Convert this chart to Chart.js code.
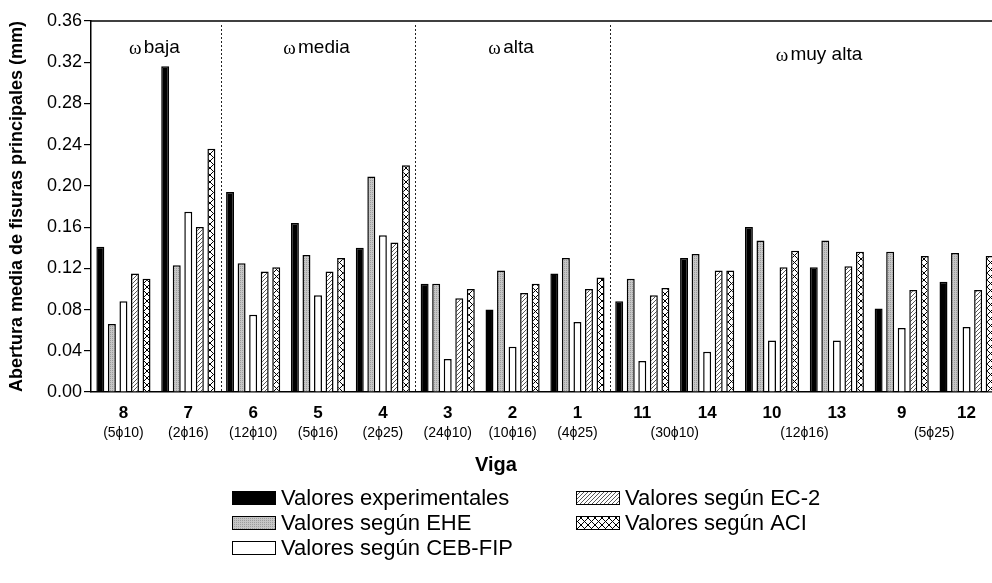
<!DOCTYPE html>
<html>
<head>
<meta charset="utf-8">
<script src="https://cdn.jsdelivr.net/npm/chart.js@4.4.0/dist/chart.umd.min.js"></script>
<style>
  html, body { margin: 0; padding: 0; background: #fff; overflow: hidden; }
  #wrap { position: relative; width: 1010px; height: 583px; }
</style>
</head>
<body>
<div id="wrap"><canvas id="fisurasChart"></canvas></div>
<script>
// vigas, in the order they are plotted
const vigas = ['8', '7', '6', '5', '4', '3', '2', '1', '11', '14', '10', '13', '9', '12'];
// armado of each viga (shared ones are printed once)
const armado = ['5ϕ10', '2ϕ16', '12ϕ10', '5ϕ16', '2ϕ25', '24ϕ10', '10ϕ16', '4ϕ25',
  '30ϕ10', '30ϕ10', '12ϕ16', '12ϕ16', '5ϕ25', '5ϕ25'];
// cuantia group of each viga
const cuantia = ['baja', 'baja', 'media', 'media', 'media', 'alta', 'alta', 'alta',
  'muy alta', 'muy alta', 'muy alta', 'muy alta', 'muy alta', 'muy alta'];

// abertura media de fisuras (mm)
const experimentales = [0.141, 0.316, 0.194, 0.164, 0.140, 0.105, 0.080, 0.115, 0.088, 0.130, 0.160, 0.121, 0.081, 0.107];
const segunEHE = [0.066, 0.123, 0.125, 0.133, 0.209, 0.105, 0.118, 0.130, 0.110, 0.134, 0.147, 0.147, 0.136, 0.135];
const segunCEB = [0.088, 0.175, 0.075, 0.094, 0.152, 0.032, 0.044, 0.068, 0.030, 0.039, 0.050, 0.050, 0.062, 0.063];
const segunEC2 = [0.115, 0.160, 0.117, 0.117, 0.145, 0.091, 0.096, 0.100, 0.094, 0.118, 0.121, 0.122, 0.099, 0.099];
const segunACI = [0.110, 0.236, 0.121, 0.130, 0.220, 0.100, 0.105, 0.111, 0.101, 0.118, 0.137, 0.136, 0.132, 0.132];

// y axis
const yMax = 0.36;
const yStep = 0.04;

const SANS = "'Liberation Sans', Arial, 'DejaVu Sans', sans-serif";
const SERIF = "'Liberation Serif', 'DejaVu Serif', serif";
Chart.defaults.font.family = SANS;
Chart.defaults.color = '#000';

// small canvas tiles for the bar fills
function tile(w, h, draw) {
  const c = document.createElement('canvas');
  c.width = w; c.height = h;
  const g = c.getContext('2d');
  g.fillStyle = '#fff';
  g.fillRect(0, 0, w, h);
  draw(g);
  return g.createPattern(c, 'repeat');
}

const grayFill = tile(2, 2, g => {
  g.fillStyle = '#c6c6c6'; g.fillRect(0, 0, 2, 2);
  g.fillStyle = '#9c9c9c'; g.fillRect(0, 0, 1, 1);
});
const hatchFill = tile(4, 4, g => {
  g.strokeStyle = '#444'; g.lineWidth = 0.9;
  g.beginPath();
  g.moveTo(0, 4); g.lineTo(4, 0);
  g.moveTo(-1, 1); g.lineTo(1, -1);
  g.moveTo(3, 5); g.lineTo(5, 3);
  g.stroke();
});
const crossFill = tile(7, 7, g => {
  g.strokeStyle = '#000'; g.lineWidth = 1;
  g.beginPath();
  g.moveTo(0, 0); g.lineTo(7, 7);
  g.moveTo(7, 0); g.lineTo(0, 7);
  g.stroke();
});

// runs of equal values -> [first, last, value]
function runs(arr) {
  const out = [];
  arr.forEach((v, i) => {
    const r = out[out.length - 1];
    if (r && r[2] === v) r[1] = i; else out.push([i, i, v]);
  });
  return out;
}

// frame top line, dotted separators and the ω labels
const zonasPlugin = {
  id: 'zonas',
  afterDatasetsDraw(chart) {
    const {ctx, chartArea: a, scales: {x}} = chart;
    ctx.save();
    ctx.strokeStyle = '#000';
    ctx.lineWidth = 1.5;
    ctx.beginPath();
    ctx.moveTo(a.left, a.top);
    ctx.lineTo(a.right, a.top);
    ctx.stroke();

    const grupos = runs(cuantia);
    ctx.lineWidth = 1;
    ctx.strokeStyle = '#222';
    ctx.setLineDash([2, 2]);
    grupos.slice(1).forEach(r => {
      const xs = Math.round((x.getPixelForValue(r[0] - 1) + x.getPixelForValue(r[0])) / 2) + 0.5;
      ctx.beginPath();
      ctx.moveTo(xs, a.top + 4);
      ctx.lineTo(xs, a.bottom);
      ctx.stroke();
    });
    ctx.setLineDash([]);

    ctx.fillStyle = '#000';
    ctx.textBaseline = 'middle';
    ctx.textAlign = 'left';
    grupos.forEach((r, k) => {
      const last = k === grupos.length - 1;
      const cx = (x.getPixelForValue(r[0]) + x.getPixelForValue(r[1])) / 2 + (last ? 16 : 0);
      const cy = a.top + (last ? 34 : 27);
      const rest = ' ' + r[2];
      ctx.font = '19px ' + SERIF;
      const w1 = ctx.measureText('ω').width;
      ctx.font = '19px ' + SANS;
      const w2 = ctx.measureText(rest).width;
      const x0 = cx - (w1 + w2) / 2;
      ctx.font = '19px ' + SERIF;
      ctx.fillText('ω', x0, cy + 1);
      ctx.font = '19px ' + SANS;
      ctx.fillText(rest, x0 + w1 - 3, cy);
    });
    ctx.restore();
  },
  afterDraw(chart) {
    const {ctx, chartArea: a, scales: {x}} = chart;
    ctx.save();
    ctx.fillStyle = '#000';
    ctx.textAlign = 'center';
    ctx.textBaseline = 'middle';

    // armado under the beam numbers
    ctx.font = '14px ' + SANS;
    runs(armado).forEach(r => {
      const cx = (x.getPixelForValue(r[0]) + x.getPixelForValue(r[1])) / 2;
      ctx.fillText('(' + r[2] + ')', cx, a.bottom + 41);
    });

    // axis title
    ctx.font = 'bold 20px ' + SANS;
    ctx.fillText('Viga', 496, a.bottom + 73);

    // legend, two columns
    const cols = [[0, 1, 2], [3, 4]];
    const colX = [232, 576];
    ctx.textAlign = 'left';
    ctx.font = '22px ' + SANS;
    cols.forEach((col, c) => {
      col.forEach((di, r) => {
        const ds = chart.data.datasets[di];
        const yy = a.bottom + 106 + r * 25;
        ctx.fillStyle = ds.backgroundColor;
        ctx.fillRect(colX[c], yy - 7, 44, 14);
        ctx.strokeStyle = '#000';
        ctx.lineWidth = 1;
        ctx.strokeRect(colX[c] + 0.5, yy - 6.5, 43, 13);
        ctx.fillStyle = '#000';
        ctx.fillText(ds.label, colX[c] + 49, yy + 1);
      });
    });
    ctx.restore();
  }
};

const barStyle = {borderColor: '#000', borderWidth: 1.5};

new Chart(document.getElementById('fisurasChart'), {
  type: 'bar',
  data: {
    labels: vigas,
    datasets: [
      {label: 'Valores experimentales', data: experimentales, backgroundColor: '#000', ...barStyle},
      {label: 'Valores según EHE', data: segunEHE, backgroundColor: grayFill, ...barStyle},
      {label: 'Valores según CEB-FIP', data: segunCEB, backgroundColor: '#fff', ...barStyle},
      {label: 'Valores según EC-2', data: segunEC2, backgroundColor: hatchFill, ...barStyle},
      {label: 'Valores según ACI', data: segunACI, backgroundColor: crossFill, ...barStyle}
    ]
  },
  options: {
    responsive: true,
    maintainAspectRatio: false,
    animation: false,
    categoryPercentage: 0.89,
    barPercentage: 0.69,
    layout: {padding: {top: 21, right: 11, left: 0, bottom: 0}},
    plugins: {legend: {display: false}, tooltip: {enabled: false}},
    scales: {
      x: {
        grid: {display: false, drawTicks: false},
        border: {color: '#000', width: 1.5},
        ticks: {font: {size: 17, weight: 'bold'}, padding: 11, maxRotation: 0, autoSkip: false},
        afterFit: s => { s.height = 191; }
      },
      y: {
        min: 0,
        max: yMax,
        grid: {drawOnChartArea: false, color: '#000', tickLength: 7, lineWidth: 1.2},
        border: {color: '#000', width: 1.5},
        ticks: {stepSize: yStep, padding: 2, font: {size: 18}, callback: v => v.toFixed(2)},
        title: {
          display: true,
          text: 'Abertura media de fisuras principales (mm)',
          font: {size: 18, weight: 'bold'},
          padding: {top: 6, bottom: 0}
        },
        afterFit: s => { s.width = 91; }
      }
    }
  },
  plugins: [zonasPlugin]
});
</script>
</body>
</html>
